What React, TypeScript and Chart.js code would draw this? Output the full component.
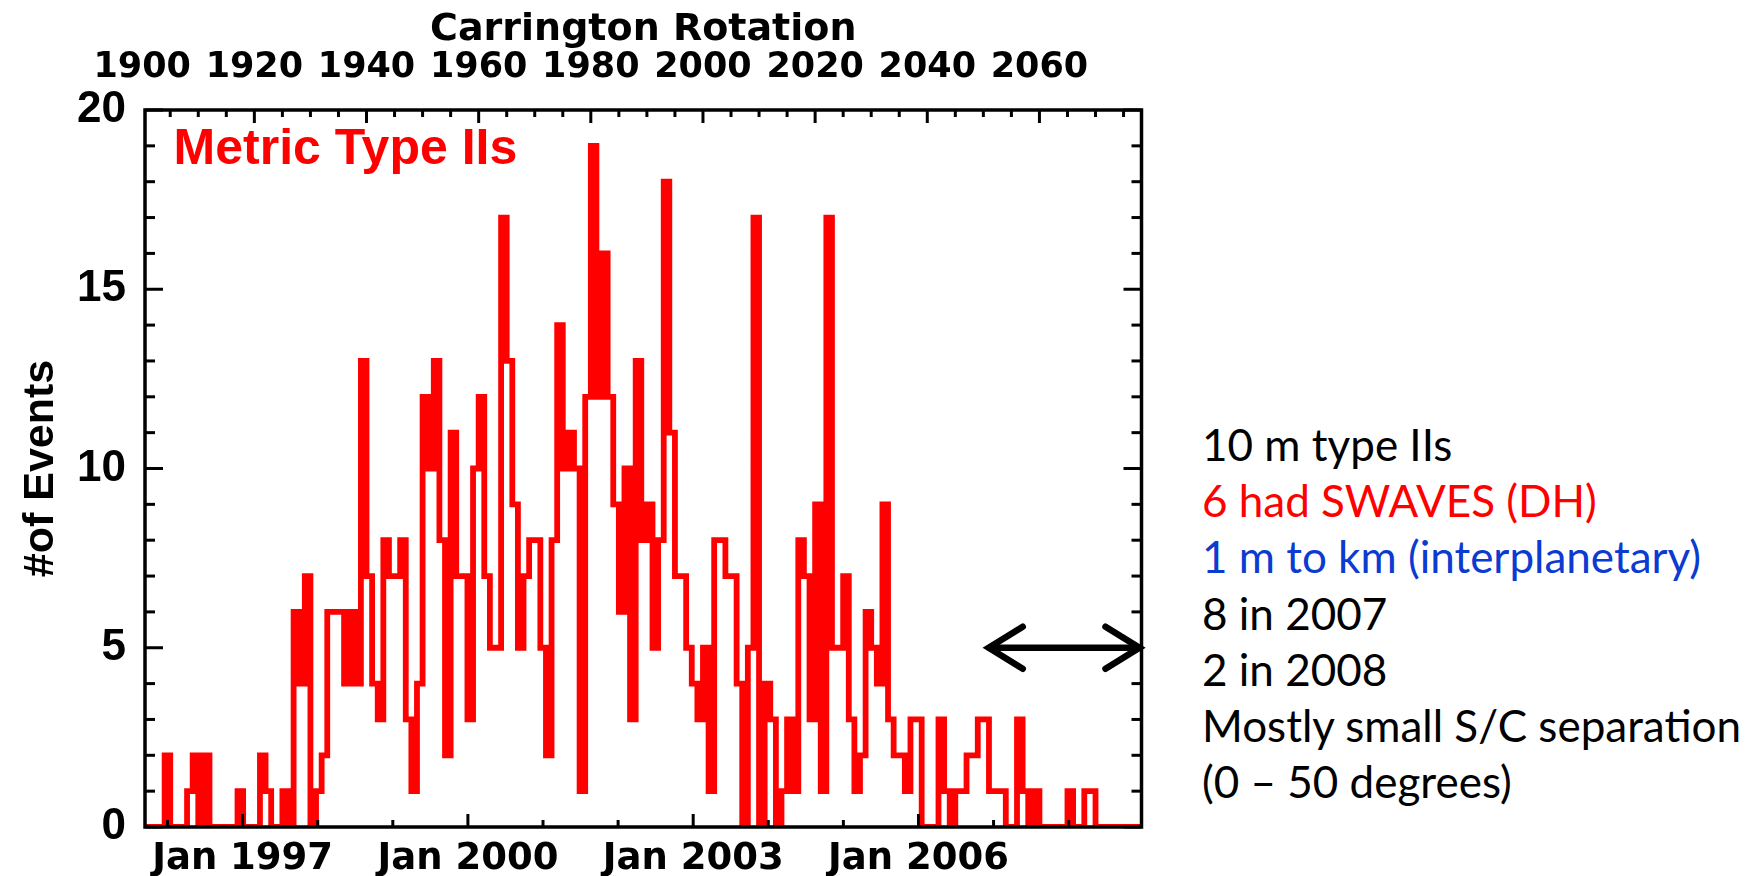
import { useEffect, useRef } from 'react';
import { Chart, registerables } from 'chart.js';

Chart.register(...registerables);

// Metric type II bursts counted per Carrington rotation, starting at CR 1900.
const CR_FIRST = 1900;
const EVENTS_PER_ROTATION = [
  0, 0, 0, 0, 2, 0, 0, 0, 1, 2,      // 1900-1909
  0, 2, 0, 0, 0, 0, 0, 1, 0, 0,      // 1910-1919
  0, 2, 1, 0, 0, 1, 0, 6, 4, 7,      // 1920-1929
  0, 1, 2, 6, 6, 6, 4, 6, 4, 13,     // 1930-1939
  7, 4, 3, 8, 7, 7, 8, 3, 1, 4,      // 1940-1949
  12, 10, 13, 8, 2, 11, 7, 7, 3, 10, // 1950-1959
  12, 7, 5, 5, 17, 13, 9, 5, 7, 8,   // 1960-1969
  8, 5, 2, 8, 14, 10, 11, 10, 1, 12, // 1970-1979
  19, 12, 16, 12, 9, 6, 10, 3, 13, 8, // 1980-1989
  9, 5, 8, 18, 11, 7, 7, 5, 4, 3,    // 1990-1999
  5, 1, 8, 8, 7, 7, 4, 0, 5, 17,     // 2000-2009
  0, 4, 3, 0, 1, 3, 1, 8, 7, 3,      // 2010-2019
  9, 1, 17, 5, 5, 7, 3, 1, 2, 6,     // 2020-2029
  5, 4, 9, 3, 2, 2, 1, 3, 3, 0,      // 2030-2039
  0, 0, 3, 1, 0, 1, 1, 2, 2, 3,      // 2040-2049
  3, 1, 1, 1, 0, 0, 3, 1, 0, 1,      // 2050-2059
  0, 0, 0, 0, 0, 1, 0, 0, 1, 1,      // 2060-2069
  0, 0, 0, 0, 0, 0, 0, 0,            // 2070-2077
];

// Axis ranges and ticks
const CR_RANGE = [1900.5, 2078.2];
const CR_LABEL_TICKS = [1900, 1920, 1940, 1960, 1980, 2000, 2020, 2040, 2060];
const CR_MINOR_STEP = 5;
const CR_MAJOR_STEP = 20;
const YEAR_RANGE = [1995.7, 2008.97];
const YEAR_TICKS = [1996, 1997, 1998, 1999, 2000, 2001, 2002, 2003, 2004, 2005, 2006, 2007, 2008];
const LABELLED_YEARS = [1997, 2000, 2003, 2006];
const COUNT_RANGE = [0, 20];
const COUNT_LABEL_TICKS = [0, 5, 10, 15, 20];

// Double arrow marking the 2007-2008 interval at five events
const ARROW_CR = [2050.6, 2078.2];
const ARROW_LEVEL = 5;

const NOTE_LINES = [
  '10 m type IIs',
  '6 had SWAVES (DH)',
  '1 m to km (interplanetary)',
  '8 in 2007',
  '2 in 2008',
  'Mostly small S/C separation',
  '(0 \u2013 50 degrees)',
];
const NOTE_COLORS = ['#000000', '#ff0000', '#0b3bd0', '#000000', '#000000', '#000000', '#000000'];

const CANVAS_W = 1160;
const CANVAS_H = 876;

const framePlugin = {
  id: 'idlFrame',
  afterDatasetsDraw(chart: any) {
    const { ctx, chartArea: a, scales } = chart;
    const y = scales.y;
    const cr = scales.cr;
    const yr = scales.x;
    ctx.save();

    // double arrow
    const ax1 = cr.getPixelForValue(ARROW_CR[0]);
    const ax2 = cr.getPixelForValue(ARROW_CR[1]);
    const ay = y.getPixelForValue(ARROW_LEVEL);
    ctx.strokeStyle = '#000';
    ctx.lineWidth = 6.5;
    ctx.lineCap = 'round';
    ctx.lineJoin = 'miter';
    ctx.beginPath();
    ctx.moveTo(ax1 + 3, ay);
    ctx.lineTo(ax2 - 3, ay);
    ctx.stroke();
    ctx.beginPath();
    ctx.moveTo(ax1 + 36, ay - 21);
    ctx.lineTo(ax1 + 2, ay);
    ctx.lineTo(ax1 + 36, ay + 21);
    ctx.stroke();
    ctx.beginPath();
    ctx.moveTo(ax2 - 36, ay - 21);
    ctx.lineTo(ax2 - 2, ay);
    ctx.lineTo(ax2 - 36, ay + 21);
    ctx.stroke();

    // inward tick marks
    ctx.lineCap = 'butt';
    ctx.lineWidth = 3;
    const seg = (x1: number, y1: number, x2: number, y2: number) => {
      ctx.beginPath();
      ctx.moveTo(x1, y1);
      ctx.lineTo(x2, y2);
      ctx.stroke();
    };
    for (let v = COUNT_RANGE[0]; v <= COUNT_RANGE[1]; v++) {
      const py = y.getPixelForValue(v);
      const len = COUNT_LABEL_TICKS.includes(v) ? 18 : 10;
      seg(a.left, py, a.left + len, py);
      seg(a.right, py, a.right - len, py);
    }
    for (let v = Math.ceil(CR_RANGE[0] / CR_MINOR_STEP) * CR_MINOR_STEP; v <= CR_RANGE[1]; v += CR_MINOR_STEP) {
      const px = cr.getPixelForValue(v);
      const len = v % CR_MAJOR_STEP === 0 ? 13 : 7;
      seg(px, a.top, px, a.top + len);
    }
    for (const v of YEAR_TICKS) {
      const px = yr.getPixelForValue(v);
      const len = LABELLED_YEARS.includes(v) ? 13 : 7;
      seg(px, a.bottom, px, a.bottom - len);
    }

    // plot frame
    ctx.lineWidth = 3.5;
    ctx.strokeRect(a.left, a.top, a.right - a.left, a.bottom - a.top);
    ctx.restore();
  },
};

export default function App() {
  const ref = useRef<HTMLCanvasElement>(null);

  useEffect(() => {
    const canvas = ref.current;
    if (!canvas) return;
    const points = EVENTS_PER_ROTATION.map((v, i) => ({ x: CR_FIRST + i, y: v }));
    points.push({ x: CR_FIRST + EVENTS_PER_ROTATION.length, y: 0 });

    const black = '#000000';
    const chart = new Chart(canvas, {
      type: 'line',
      data: {
        datasets: [
          {
            data: points,
            xAxisID: 'cr',
            yAxisID: 'y',
            borderColor: '#ff0000',
            backgroundColor: '#ff0000',
            borderWidth: 5.8,
            stepped: true,
            pointRadius: 0,
            fill: false,
            borderJoinStyle: 'miter',
            borderCapStyle: 'butt',
            clip: 0,
          },
        ],
      },
      options: {
        responsive: false,
        maintainAspectRatio: false,
        animation: false,
        events: [],
        layout: { padding: { left: 0, top: 0, bottom: 0, right: CANVAS_W - 1141.5 } },
        plugins: { legend: { display: false }, tooltip: { enabled: false } },
        scales: {
          y: {
            type: 'linear',
            position: 'left',
            min: COUNT_RANGE[0],
            max: COUNT_RANGE[1],
            afterFit: (s: any) => { s.width = 145; },
            afterBuildTicks: (s: any) => { s.ticks = COUNT_LABEL_TICKS.map((v) => ({ value: v })); },
            grid: { display: false, drawTicks: false },
            border: { display: false },
            ticks: {
              color: black,
              padding: 19,
              font: { family: 'Liberation Sans', weight: 'bold', size: 44 },
              callback: (v: any) => String(v),
            },
            title: {
              display: true,
              text: '#of Events',
              color: black,
              padding: { top: 15.6, bottom: 0 },
              font: { family: 'Liberation Sans', weight: 'bold', size: 43 },
            },
          },
          cr: {
            type: 'linear',
            position: 'top',
            min: CR_RANGE[0],
            max: CR_RANGE[1],
            afterFit: (s: any) => { s.height = 110; },
            afterBuildTicks: (s: any) => { s.ticks = CR_LABEL_TICKS.map((v) => ({ value: v })); },
            grid: { display: false, drawTicks: false },
            border: { display: false },
            ticks: {
              color: black,
              padding: 21.5,
              autoSkip: false,
              maxRotation: 0,
              font: { family: 'DejaVu Sans', weight: 'bold', size: 35 },
              callback: (v: any) => String(v),
            },
            title: {
              display: true,
              text: 'Carrington Rotation',
              color: black,
              padding: { top: 7, bottom: 0 },
              font: { family: 'DejaVu Sans', weight: 'bold', size: 38 },
            },
          },
          x: {
            type: 'linear',
            position: 'bottom',
            min: YEAR_RANGE[0],
            max: YEAR_RANGE[1],
            afterFit: (s: any) => { s.height = CANVAS_H - 827; },
            afterBuildTicks: (s: any) => { s.ticks = YEAR_TICKS.map((v) => ({ value: v })); },
            grid: { display: false, drawTicks: false },
            border: { display: false },
            ticks: {
              color: black,
              padding: 10,
              autoSkip: false,
              maxRotation: 0,
              font: { family: 'DejaVu Sans', weight: 'bold', size: 37 },
              callback: (v: any) => (LABELLED_YEARS.includes(v) ? `Jan ${v}` : ''),
            },
          },
        },
      },
      plugins: [framePlugin],
    } as any);

    return () => chart.destroy();
  }, []);

  return (
    <div style={{ position: 'absolute', left: 0, top: 0, width: 1756, height: 876, background: '#ffffff', overflow: 'hidden' }}>
      <canvas
        ref={ref}
        width={CANVAS_W}
        height={CANVAS_H}
        style={{ position: 'absolute', left: 0, top: 0, width: CANVAS_W, height: CANVAS_H, display: 'block' }}
      />
      <div
        style={{
          position: 'absolute',
          left: 173.6,
          top: 122,
          fontFamily: 'Liberation Sans',
          fontWeight: 'bold',
          fontSize: 50,
          lineHeight: '50px',
          color: '#ff0000',
          whiteSpace: 'nowrap',
        }}
      >
        Metric Type IIs
      </div>
      <div
        style={{
          position: 'absolute',
          left: 1202,
          top: 416,
          fontFamily: 'Lato',
          fontSize: 44,
          lineHeight: '56.2px',
          whiteSpace: 'nowrap',
        }}
      >
        {NOTE_LINES.map((t, i) => (
          <div key={i} style={{ color: NOTE_COLORS[i] }}>{t}</div>
        ))}
      </div>
    </div>
  );
}
